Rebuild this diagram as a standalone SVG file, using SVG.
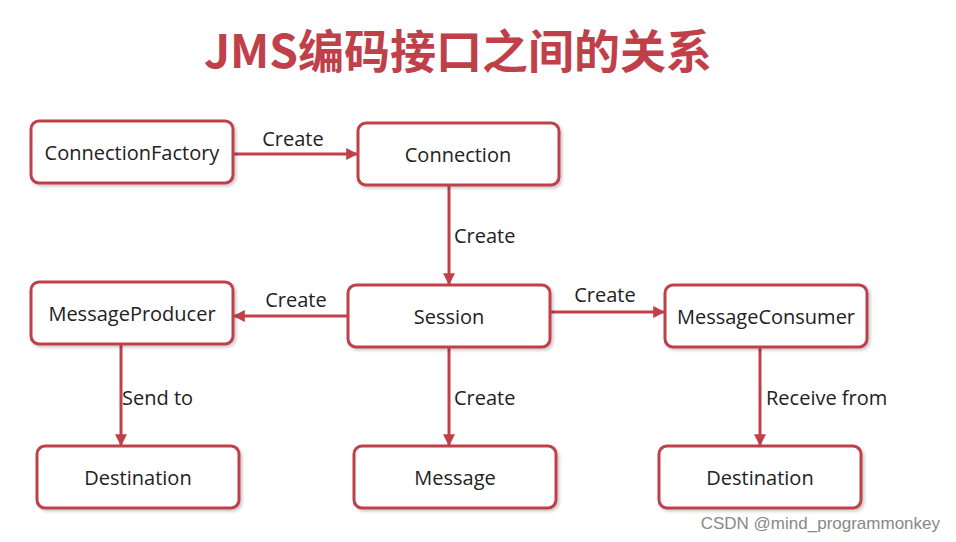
<svg xmlns="http://www.w3.org/2000/svg" width="956" height="542" viewBox="0 0 956 542">
<style>
.n rect{fill:#fff;stroke:#c0404a;stroke-width:3}
.n text{font-family:"Open Sans","Noto Sans",sans-serif;font-size:20px;fill:#222;text-anchor:middle;dominant-baseline:central}
.c line{stroke:#c0404a;stroke-width:3}
.l{font-family:"Open Sans","Noto Sans",sans-serif;font-size:20px;fill:#222}
</style>
<defs>
<marker id="a" viewBox="0 0 10 10" refX="9" refY="5" markerWidth="4" markerHeight="4" orient="auto"><path d="M0,0L10,5L0,10z" fill="#c0404a"/></marker>
<filter id="s" x="-10%" y="-10%" width="130%" height="140%"><feDropShadow dx="2" dy="2" stdDeviation="1.5" flood-color="#000" flood-opacity="0.2"/></filter>
</defs>
<rect width="956" height="542" fill="#fff"/>
<text x="458" y="48" text-anchor="middle" dominant-baseline="central" font-family="'Noto Sans CJK SC',sans-serif" font-weight="bold" font-size="46" fill="#c0404a">JMS编码接口之间的关系</text>
<g class="c">
<line x1="233" y1="154" x2="357" y2="154" marker-end="url(#a)"/>
<line x1="449" y1="185" x2="449" y2="284" marker-end="url(#a)"/>
<line x1="348" y1="316" x2="234" y2="316" marker-end="url(#a)"/>
<line x1="550" y1="312" x2="664" y2="312" marker-end="url(#a)"/>
<line x1="121" y1="344" x2="121" y2="445" marker-end="url(#a)"/>
<line x1="449" y1="347" x2="449" y2="445" marker-end="url(#a)"/>
<line x1="760" y1="347" x2="760" y2="445" marker-end="url(#a)"/>
<text class="l" x="293" y="146" text-anchor="middle">Create</text>
<text class="l" x="454" y="243">Create</text>
<text class="l" x="296" y="307" text-anchor="middle">Create</text>
<text class="l" x="605" y="302" text-anchor="middle">Create</text>
<text class="l" x="122" y="405">Send to</text>
<text class="l" x="454" y="405">Create</text>
<text class="l" x="766" y="405">Receive from</text>
</g>
<g id="connectionFactory" class="n"><rect x="31" y="121" width="202" height="62" rx="8" filter="url(#s)"/><text x="132" y="152">ConnectionFactory</text></g>
<g id="connection" class="n"><rect x="358" y="123" width="201" height="62" rx="8" filter="url(#s)"/><text x="458" y="154">Connection</text></g>
<g id="messageProducer" class="n"><rect x="31" y="282" width="202" height="62" rx="8" filter="url(#s)"/><text x="132" y="313">MessageProducer</text></g>
<g id="session" class="n"><rect x="348" y="285" width="202" height="62" rx="8" filter="url(#s)"/><text x="449" y="316">Session</text></g>
<g id="messageConsumer" class="n"><rect x="665" y="285" width="202" height="62" rx="8" filter="url(#s)"/><text x="766" y="316">MessageConsumer</text></g>
<g id="destination1" class="n"><rect x="37" y="446" width="202" height="62" rx="8" filter="url(#s)"/><text x="138" y="477">Destination</text></g>
<g id="message" class="n"><rect x="354" y="446" width="202" height="62" rx="8" filter="url(#s)"/><text x="455" y="477">Message</text></g>
<g id="destination2" class="n"><rect x="659" y="446" width="202" height="62" rx="8" filter="url(#s)"/><text x="760" y="477">Destination</text></g>
<text x="940" y="523" text-anchor="end" dominant-baseline="central" font-family="'Liberation Sans',sans-serif" font-size="17" fill="#888">CSDN @mind_programmonkey</text>
</svg>
